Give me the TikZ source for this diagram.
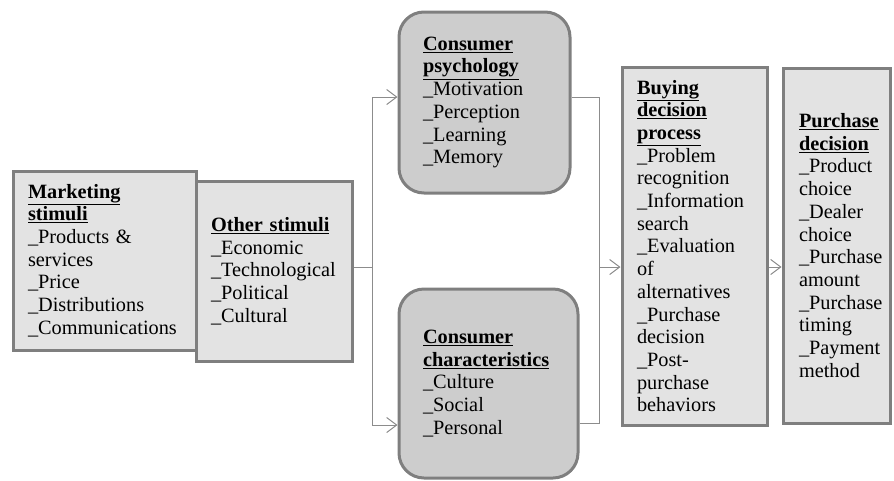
\documentclass[tikz,border=0pt]{standalone}
\usepackage{fontspec}
\setmainfont{Liberation Serif}
\usetikzlibrary{arrows.meta}
\definecolor{boxfill}{HTML}{E3E3E3}
\definecolor{roundfill}{HTML}{CDCDCD}
\definecolor{boxline}{HTML}{7F7F7F}
\definecolor{linkline}{HTML}{8C8C8C}
\newcommand{\boxhead}[1]{\underline{\textbf{#1}}}

\begin{document}
\begin{tikzpicture}[
            x = 1pt, y = -1pt, % one unit per pixel, y going down
            > = {Straight Barb[length=10pt,width=15pt]}, % open arrow head
            stimbox/.style = {draw=boxline, fill=boxfill, line width=3pt,
                inner sep=0pt, align=left,
                font=\fontsize{20.3}{22.7}\selectfont},
            roundbox/.style = {stimbox, fill=roundfill, rounded corners=25pt},
            link/.style = {draw=linkline, line width=1pt} % connector style
        ]
\useasboundingbox (0,0) rectangle (894,480);

\node[stimbox, minimum width=183pt, minimum height=179pt, text width=153pt] (mkt) at (104.5,260.5)
    {\boxhead{Marketing}\\ \boxhead{stimuli}\\ \_Products \&\\ services\\ \_Price\\ \_Distributions\\ \_Communications};
\node[stimbox, minimum width=156pt, minimum height=180pt, text width=126pt] (oth) at (274,271)
    {\boxhead{Other stimuli}\\ \_Economic\\ \_Technological\\ \_Political\\ \_Cultural};
\node[roundbox, minimum width=171pt, minimum height=181pt, text width=123pt] (psych) at (484.5,102.5)
    {\boxhead{Consumer}\\ \boxhead{psychology}\\ \_Motivation\\ \_Perception\\ \_Learning\\ \_Memory};
\node[roundbox, minimum width=179pt, minimum height=189pt, text width=131pt] (char) at (488.5,383.5)
    {\boxhead{Consumer}\\ \boxhead{characteristics}\\ \_Culture\\ \_Social\\ \_Personal};
\node[stimbox, minimum width=145pt, minimum height=358pt, text width=115pt] (buy) at (694.5,246)
    {\boxhead{Buying}\\ \boxhead{decision}\\ \boxhead{process}\\ \_Problem\\ recognition\\ \_Information\\ search\\
     \_Evaluation\\ of\\ alternatives\\ \_Purchase\\ decision\\ \_Post-\\ purchase\\ behaviors};
\node[stimbox, minimum width=107pt, minimum height=355pt, text width=75pt] (pur) at (836.5,245.5)
    {\boxhead{Purchase}\\ \boxhead{decision}\\ \_Product\\ choice\\ \_Dealer\\ choice\\ \_Purchase\\ amount\\
     \_Purchase\\ timing\\ \_Payment\\ method};

\coordinate (split) at (372,267);
\coordinate (join) at (599,267);

 \draw [link] (oth.east |- split) -- (split);
 \draw [link,->] (split) |- ([yshift=5.5pt]psych.west);
 \draw [link,->] (split) |- ([yshift=-41.5pt]char.west);
 \draw [link] ([yshift=5.5pt]psych.east) -| (join);
 \draw [link] ([yshift=-39.5pt]char.east) -| (join);
 \draw [link,->] (join) -- (buy.west |- join);
 \draw [link,->] (buy.east |- join) -- (pur.west |- join);

\end{tikzpicture}
\end{document}
